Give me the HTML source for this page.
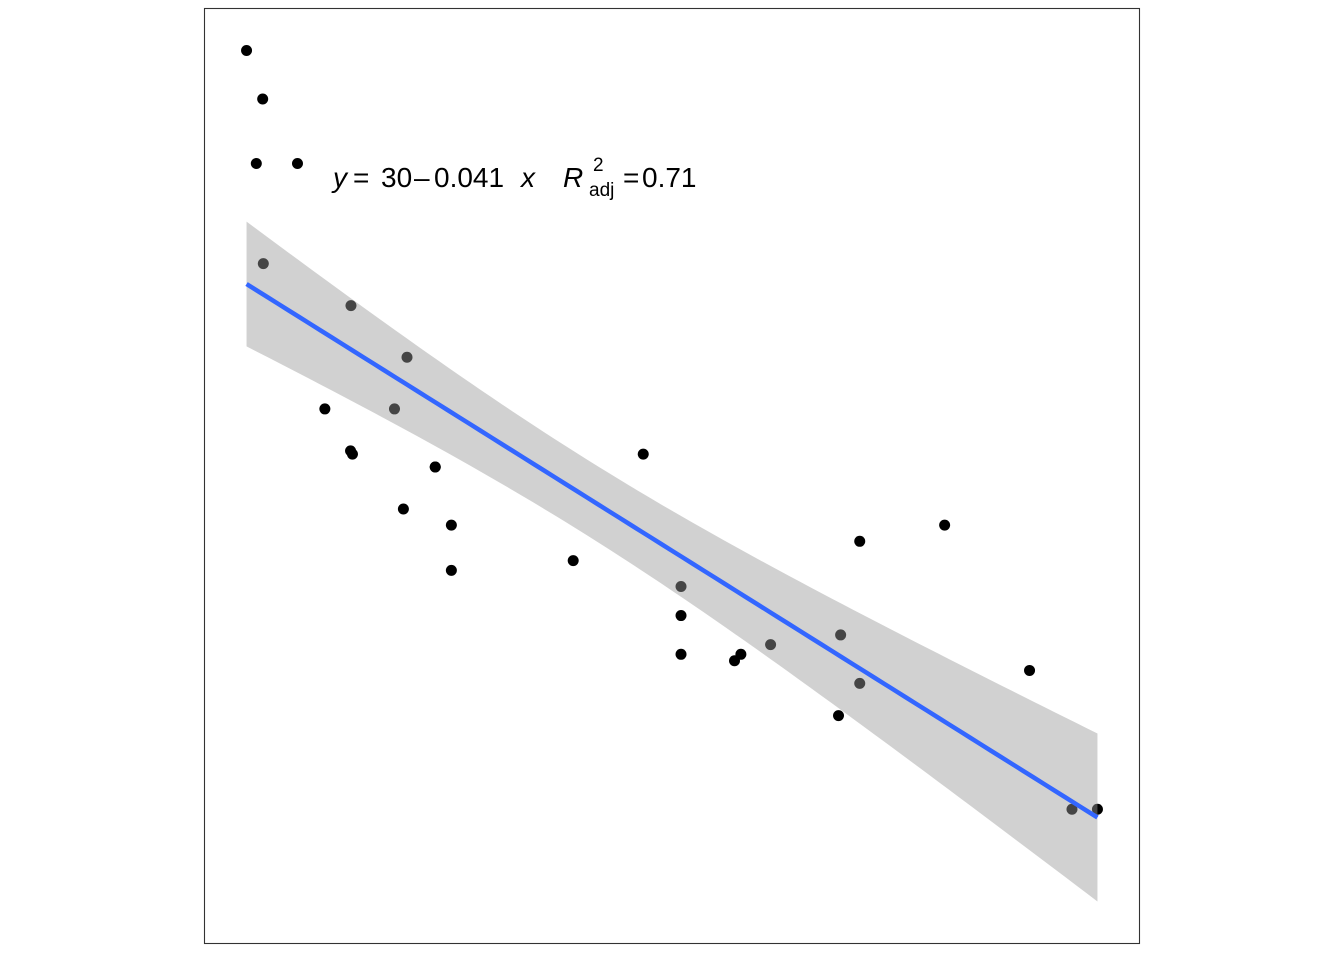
<!DOCTYPE html>
<html><head><meta charset="utf-8">
<style>
html,body{margin:0;padding:0;background:#fff;width:1344px;height:960px;overflow:hidden}
svg{display:block;font-family:"Liberation Sans",Arial,sans-serif}
</style></head>
<body>
<svg id="chart" width="1344" height="960" viewBox="0 0 1344 960">
<rect x="204.5" y="8.5" width="935" height="935" fill="#fff" stroke="#333" stroke-width="1.1"/>
<g id="points"></g>
<g id="fit"></g>
<g font-size="28" fill="#000">
<text x="333" y="187" font-style="italic">y</text>
<text x="353" y="187">=</text>
<text x="381" y="187">30</text>
<text x="414" y="187">–</text>
<text x="434" y="187">0.041</text>
<text x="521" y="187" font-style="italic">x</text>
<text x="563" y="187" font-style="italic">R</text>
<text x="593" y="171" font-size="19">2</text>
<text x="589" y="196" font-size="19">adj</text>
<text x="623" y="187">=</text>
<text x="642" y="187">0.71</text>
</g>
</svg>
<script>
const disp = [160,160,108,258,360,225,360,146.7,140.8,167.6,167.6,275.8,275.8,275.8,472,460,440,78.7,75.7,71.1,120.1,318,304,350,400,79,120.3,95.1,351,145,301,121];
const mpg = [21,21,22.8,21.4,18.7,18.1,14.3,24.4,22.8,19.2,17.8,16.4,17.3,15.2,10.4,10.4,14.7,32.4,30.4,33.9,21.5,15.5,15.2,13.3,19.2,27.3,26,30.4,15.8,19.7,15,21.4];
const tCrit = 2.042;

const NS="http://www.w3.org/2000/svg";
const n=disp.length;
const mx=disp.reduce((a,b)=>a+b)/n, my=mpg.reduce((a,b)=>a+b)/n;
let sxx=0,sxy=0;for(let i=0;i<n;i++){sxx+=(disp[i]-mx)**2;sxy+=(disp[i]-mx)*(mpg[i]-my);}
const b1=sxy/sxx,b0=my-b1*mx;
let sse=0;for(let i=0;i<n;i++)sse+=(mpg[i]-b0-b1*disp[i])**2;
const s=Math.sqrt(sse/(n-2));
const xmin=Math.min(...disp),xmax=Math.max(...disp);
const grid=[];for(let k=0;k<=80;k++){const x=xmin+(xmax-xmin)*k/80;const f=b0+b1*x;const se=s*Math.sqrt(1/n+(x-mx)**2/sxx);grid.push([x,f,f-tCrit*se,f+tCrit*se]);}
let ylo=Math.min(...mpg,...grid.map(g=>g[2])),yhi=Math.max(...mpg,...grid.map(g=>g[3]));
const ex=(xmax-xmin)*0.05,ey=(yhi-ylo)*0.05;
const X=v=>204+(v-(xmin-ex))/((xmax-xmin)+2*ex)*936;
const Y=v=>944-(v-(ylo-ey))/((yhi-ylo)+2*ey)*936;

const pg=document.getElementById('points');
for(let i=0;i<n;i++){const c=document.createElementNS(NS,'circle');
c.setAttribute('cx',X(disp[i]));c.setAttribute('cy',Y(mpg[i]));c.setAttribute('r',5.5);c.setAttribute('fill','#000');


pg.appendChild(c);}
const fg=document.getElementById('fit');
const rib=document.createElementNS(NS,'path');
let d=grid.map((g,i)=>(i?'L':'M')+X(g[0])+','+Y(g[3])).join('')+grid.slice().reverse().map(g=>'L'+X(g[0])+','+Y(g[2])).join('')+'Z';
rib.setAttribute('d',d);rib.setAttribute('fill','#999');rib.setAttribute('fill-opacity','0.45');


fg.appendChild(rib);
const ln=document.createElementNS(NS,'path');
ln.setAttribute('d',grid.map((g,i)=>(i?'L':'M')+X(g[0])+','+Y(g[1])).join(''));
ln.setAttribute('stroke','#3366FF');ln.setAttribute('stroke-width','4.5');ln.setAttribute('fill','none');


fg.appendChild(ln);
</script>
</body></html>
